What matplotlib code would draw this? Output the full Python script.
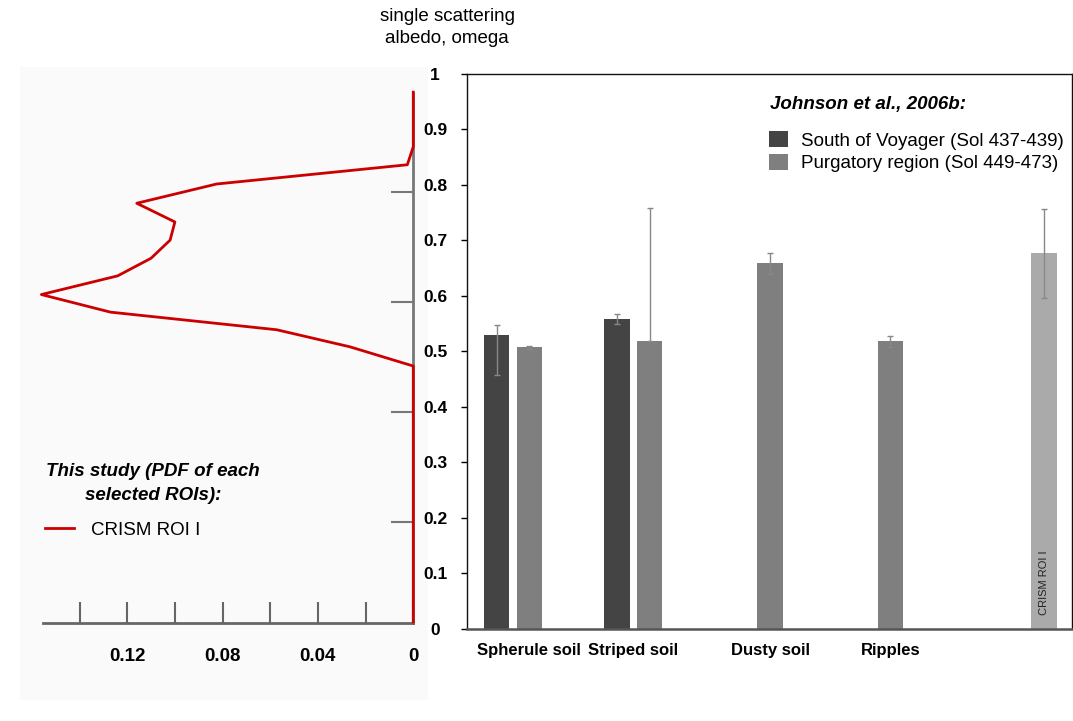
#!/usr/bin/env python3
# single scattering albedo: PDF of CRISM ROI next to Johnson et al. 2006b bars

import numpy as np
import matplotlib.pyplot as plt
from matplotlib.patches import Rectangle
from matplotlib.ticker import FuncFormatter

plt.rcParams['font.family'] = ['Liberation Sans', 'DejaVu Sans']

# PDF of omega for CRISM ROI I (left panel, x reversed)
pdf_omega = [0.981, 0.882, 0.849, 0.814, 0.779, 0.745, 0.712, 0.679,
             0.647, 0.613, 0.581, 0.549, 0.518, 0.483, 0.018]
pdf_density = [0.0, 0.0, 0.0025, 0.0825, 0.116, 0.100, 0.102, 0.110,
               0.124, 0.156, 0.127, 0.0573, 0.0266, 0.0, 0.0]
pdf_xticks = [0.0, 0.02, 0.04, 0.06, 0.08, 0.10, 0.12, 0.14]
pdf_xlabels = ['0', '', '0.04', '', '0.08', '', '0.12', '']

# Johnson et al., 2006b (right panel)
categories = ['Spherule soil', 'Striped soil', 'Dusty soil', 'Ripples']
voyager_idx = [0, 1]
voyager_vals = [0.530, 0.558]
voyager_lo = [0.072, 0.009]
voyager_hi = [0.018, 0.009]
purg_idx = [0, 1, 2, 3]
purg_vals = [0.507, 0.519, 0.659, 0.519]
purg_lo = [0.003, 0.0, 0.020, 0.011]
purg_hi = [0.003, 0.240, 0.018, 0.009]
crism_idx = 4
crism_val = 0.677
crism_lo = 0.080
crism_hi = 0.079
albedo_ticks = np.round(np.arange(0, 1.01, 0.1), 1)


def main():
    """main"""
    W, H = 1073, 721
    fig = plt.figure(figsize=(W / 100, H / 100), dpi=100)
    fig.patches.append(Rectangle((20 / W, 21 / H), 408 / W, 633 / H,
                                 transform=fig.transFigure, facecolor='#fafafa',
                                 edgecolor='none', zorder=-10))

    # ---- left panel: PDF
    ax1 = fig.add_axes([39 / W, 1 - 631.7 / H, 374.3 / W, 550 / H])
    ax1.patch.set_visible(False)
    ax1.plot(pdf_density, pdf_omega, color='#cc0000', lw=2.0,
             label='CRISM ROI I', clip_on=False, zorder=3)
    ax1.set_xlim(0.157, 0)
    ax1.set_ylim(0, 1)
    for s in ['top', 'left']:
        ax1.spines[s].set_visible(False)
    ax1.spines['bottom'].set_position(('data', 0.016))
    ax1.spines['bottom'].set_bounds(0.1555, 0)
    ax1.spines['bottom'].set_color('#666666')
    ax1.spines['bottom'].set_linewidth(2)
    ax1.spines['right'].set_bounds(0.016, 0.98)
    ax1.spines['right'].set_color('#777777')
    ax1.spines['right'].set_linewidth(2)
    ax1.set_xticks(pdf_xticks)
    ax1.set_xticklabels(pdf_xlabels, fontsize=13.5, fontweight='bold')
    ax1.tick_params(axis='x', direction='in', length=15, width=1.5,
                    color='#666666', pad=18)
    ax1.yaxis.tick_right()
    ax1.set_yticks([0.2, 0.4, 0.6, 0.8])
    ax1.tick_params(axis='y', direction='in', length=16, width=1.5,
                    color='#777777', labelright=False)
    fig.text(153 / W, 1 - 483.5 / H, 'This study (PDF of each\nselected ROIs):',
             ha='center', va='center', fontsize=13.5, fontweight='bold',
             fontstyle='italic', linespacing=1.5)
    ax1.legend(loc='center left', bbox_to_anchor=(45 / W, 1 - 530 / H),
               bbox_transform=fig.transFigure, frameon=False, fontsize=13.5,
               handlelength=1.55, handletextpad=0.9,
               borderpad=0, borderaxespad=0)

    # ---- right panel: bars
    ax2 = fig.add_axes([467 / W, 1 - 628.7 / H, 605 / W, 554.7 / H])
    off, w = 0.135, 0.21
    ek = dict(ecolor='#888888', elinewidth=1, capsize=2, capthick=1)
    ax2.bar(np.array(voyager_idx) - off, voyager_vals, w,
            yerr=[voyager_lo, voyager_hi], color='#444444', error_kw=ek,
            label='South of Voyager (Sol 437-439)')
    ax2.bar(np.array(purg_idx) + off, purg_vals, w,
            yerr=[purg_lo, purg_hi], color='#7f7f7f', error_kw=ek,
            label='Purgatory region (Sol 449-473)')
    crism_x = crism_idx + 0.41
    ax2.bar([crism_x], [crism_val], w, yerr=[[crism_lo], [crism_hi]],
            color='#aaaaaa', error_kw=ek)
    ax2.text(crism_x, 0.025, 'CRISM ROI I', rotation=90, ha='center',
             va='bottom', fontsize=8, color='#222222')

    ax2.set_xlim(-0.382, 4.643)
    ax2.set_ylim(0, 1)
    ax2.set_xticks([0 + off, 1, 2 + off, 3 + off])
    ax2.set_xticklabels(categories, fontsize=12, fontweight='bold')
    ax2.tick_params(axis='x', length=0, pad=10)
    ax2.set_yticks(albedo_ticks)
    ax2.yaxis.set_major_formatter(FuncFormatter(lambda v, _: f'{round(v, 1):g}'))
    ax2.tick_params(axis='y', direction='out', length=4, width=1,
                    labelsize=12.5, pad=19)
    for lbl in ax2.get_yticklabels():
        lbl.set_fontweight('bold')
        lbl.set_horizontalalignment('center')
    for s in ['top', 'right', 'left']:
        ax2.spines[s].set_linewidth(1)
        ax2.spines[s].set_color('#111111')
    ax2.spines['bottom'].set_linewidth(1.8)
    ax2.spines['bottom'].set_color('#555555')

    fig.text(770 / W, 1 - 104 / H, 'Johnson et al., 2006b:', ha='left',
             va='center', fontsize=13.5, fontweight='bold', fontstyle='italic')
    ax2.legend(loc='upper left', bbox_to_anchor=(769 / W, 1 - 131 / H),
               bbox_transform=fig.transFigure, frameon=False, fontsize=13.5,
               handlelength=1.0, handleheight=0.96, handletextpad=0.7,
               labelspacing=0.23, borderpad=0, borderaxespad=0)

    fig.text(447 / W, 1 - 27.5 / H, 'single scattering\nalbedo, omega',
             ha='center', va='center', fontsize=13.5, linespacing=1.35)

    fig.savefig('out.png', dpi=100)


if __name__ == "__main__":
    main()
